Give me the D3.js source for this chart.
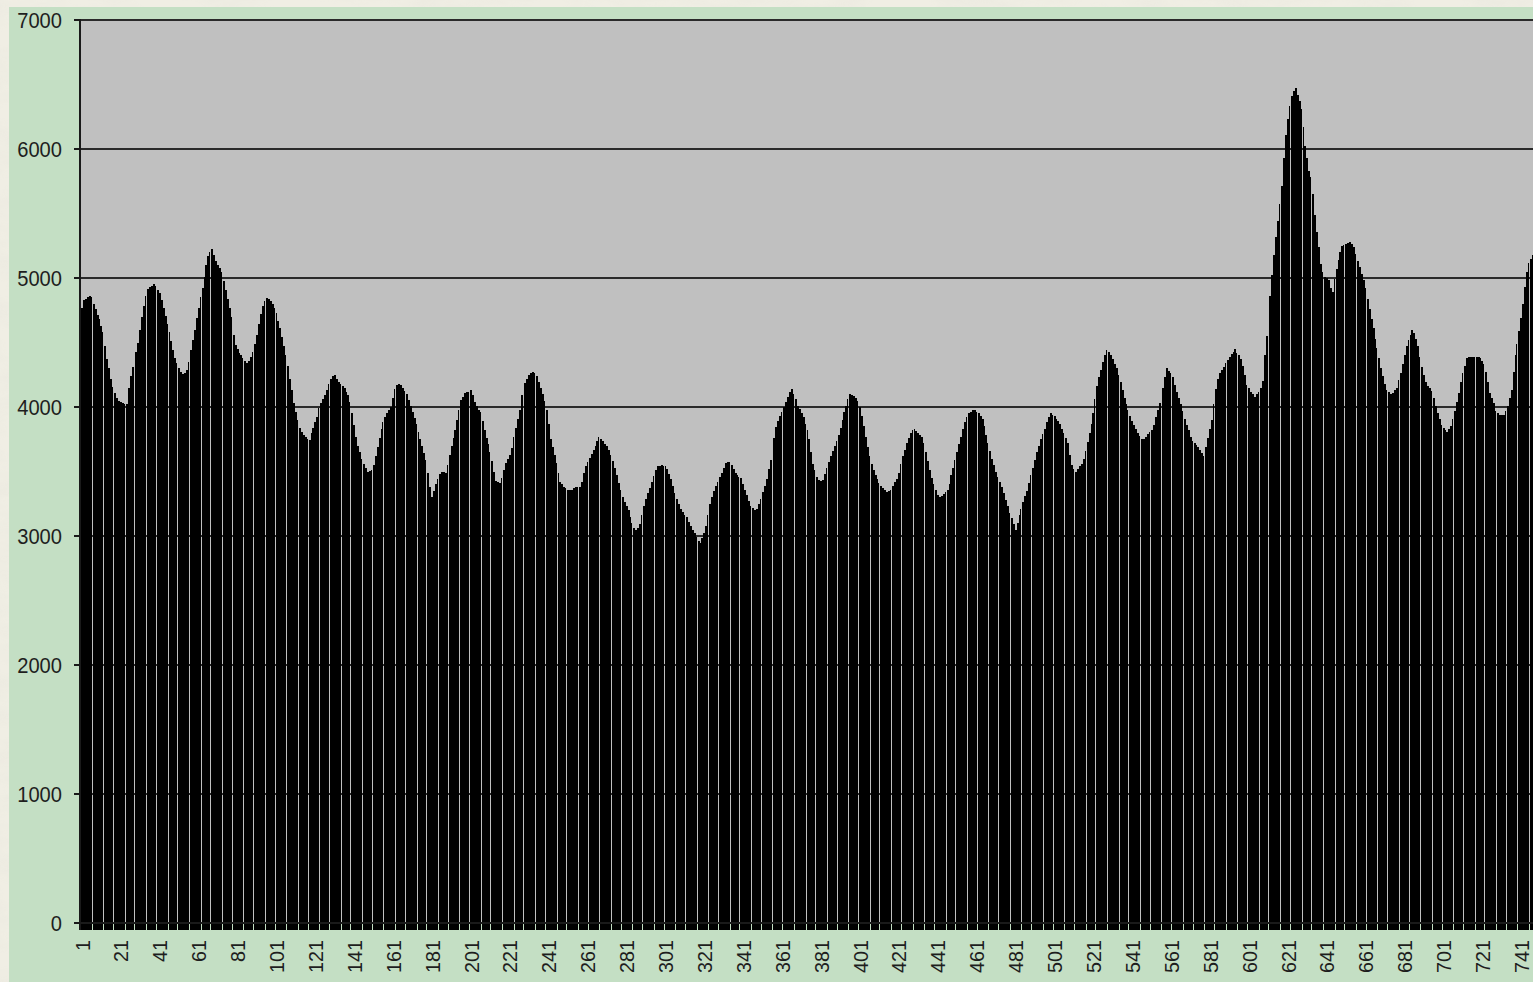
<!DOCTYPE html>
<html>
<head>
<meta charset="utf-8">
<script src="https://cdn.jsdelivr.net/npm/d3@7"></script>
<style>
  body { margin: 0; overflow: hidden; background: #efede3; }
  text { font-family: "Liberation Sans", Arial, sans-serif; fill: #1e1e1e; }
</style>
</head>
<body>
<svg width="1533" height="982"></svg>
<script>
// values, one per category
const counts = [
  4770,4830,4840,4850,4860,4850,4800,4760,4715,4680,4630,4580,4470,4370,4300,4220,4155,4110,4070,4045,
  4035,4030,4025,4020,4150,4240,4310,4370,4430,4500,4600,4700,4780,4860,4915,4930,4940,4950,4940,4910,
  4880,4830,4770,4705,4640,4580,4510,4440,4380,4340,4300,4275,4255,4260,4290,4350,4440,4520,4600,4690,
  4770,4850,4920,5010,5100,5170,5200,5225,5180,5130,5100,5080,5050,4980,4910,4840,4770,4700,4560,4480,
  4450,4420,4400,4380,4360,4340,4360,4385,4430,4490,4560,4640,4720,4780,4820,4845,4840,4825,4800,4765,
  4730,4670,4610,4540,4470,4400,4320,4220,4130,4030,3960,3900,3840,3810,3780,3765,3755,3745,3795,3840,
  3880,3920,3990,4030,4060,4090,4130,4180,4215,4240,4250,4220,4190,4175,4165,4150,4120,4090,4040,3950,
  3860,3770,3700,3650,3595,3560,3525,3500,3505,3515,3550,3620,3690,3760,3830,3880,3920,3950,3975,4000,
  4070,4140,4170,4175,4170,4150,4125,4100,4055,4010,3960,3915,3870,3810,3750,3700,3645,3590,3490,3380,
  3300,3350,3405,3440,3480,3500,3495,3490,3550,3630,3700,3760,3825,3900,3980,4055,4080,4105,4115,4120,
  4130,4090,4040,4005,3980,3960,3890,3820,3760,3710,3650,3580,3500,3430,3420,3410,3450,3510,3565,3600,
  3630,3680,3770,3840,3910,3980,4090,4150,4185,4220,4245,4265,4270,4265,4240,4195,4150,4100,4050,3980,
  3870,3750,3690,3630,3565,3490,3420,3400,3380,3370,3360,3355,3360,3370,3380,3380,3380,3420,3490,3540,
  3575,3605,3635,3670,3700,3735,3765,3755,3740,3715,3695,3670,3630,3580,3530,3470,3410,3355,3300,3260,
  3235,3200,3150,3100,3065,3045,3060,3095,3160,3230,3290,3330,3375,3415,3465,3515,3540,3545,3550,3545,
  3540,3520,3480,3440,3390,3335,3290,3250,3210,3185,3165,3145,3110,3080,3050,3020,2990,2965,2945,2985,
  3025,3080,3165,3245,3300,3350,3385,3420,3455,3490,3530,3565,3575,3570,3550,3520,3485,3470,3460,3450,
  3405,3360,3315,3270,3230,3215,3205,3210,3250,3290,3340,3390,3445,3520,3590,3660,3760,3845,3890,3930,
  3965,4000,4040,4080,4120,4140,4100,4060,4010,3985,3950,3920,3870,3820,3750,3650,3560,3510,3460,3435,
  3430,3435,3480,3530,3575,3620,3660,3700,3740,3785,3840,3900,3960,4005,4060,4100,4095,4085,4070,4050,
  4000,3930,3850,3770,3690,3620,3560,3510,3470,3440,3410,3390,3370,3355,3340,3345,3360,3390,3420,3445,
  3490,3560,3620,3670,3720,3760,3800,3825,3830,3815,3800,3785,3765,3720,3650,3580,3510,3450,3400,3360,
  3320,3300,3310,3325,3340,3355,3400,3470,3530,3590,3650,3710,3770,3830,3880,3925,3950,3965,3980,3975,
  3965,3950,3930,3905,3850,3780,3720,3660,3600,3550,3500,3460,3420,3380,3330,3280,3230,3180,3140,3090,
  3050,3100,3160,3210,3260,3310,3350,3410,3470,3530,3590,3650,3700,3750,3790,3830,3880,3920,3950,3940,
  3930,3910,3895,3870,3830,3800,3760,3720,3630,3550,3520,3500,3520,3540,3560,3600,3660,3730,3800,3870,
  3950,4060,4160,4230,4290,4350,4400,4440,4430,4400,4370,4330,4300,4250,4190,4130,4070,4020,3980,3930,
  3890,3860,3830,3800,3775,3750,3755,3770,3790,3805,3820,3860,3920,3980,4030,4080,4150,4230,4300,4280,
  4260,4230,4170,4120,4070,4020,3970,3910,3860,3820,3770,3740,3720,3705,3690,3665,3640,3620,3690,3760,
  3830,3900,4020,4140,4220,4260,4290,4310,4340,4365,4390,4410,4430,4450,4420,4400,4370,4320,4250,4170,
  4150,4120,4100,4080,4100,4120,4150,4200,4400,4550,4700,4860,5020,5180,5320,5440,5570,5710,5930,6110,
  6230,6330,6410,6450,6470,6420,6370,6310,6170,6020,5930,5830,5780,5650,5490,5360,5240,5110,5045,5010,
  5000,4985,4920,4890,4990,5070,5140,5200,5245,5255,5265,5275,5280,5260,5240,5185,5130,5085,5030,4985,
  4920,4840,4760,4685,4610,4530,4455,4380,4305,4240,4180,4130,4115,4100,4110,4130,4150,4210,4260,4330,
  4400,4475,4520,4560,4595,4570,4530,4470,4390,4310,4250,4190,4160,4145,4125,4070,4010,3950,3910,3860,
  3840,3820,3810,3830,3855,3910,3970,4040,4110,4190,4260,4320,4380,4385,4385,4390,4390,4390,4390,4380,
  4360,4330,4270,4190,4110,4070,4030,3970,3950,3940,3940,3940,3970,4010,4070,4130,4270,4400,4490,4590,
  4690,4800,4930,5050,5115,5150,5180
];
const categories = counts.map((d, i) => i + 1);
const xTickLabels = [1,21,41,61,81,101,121,141,161,181,201,221,241,261,281,301,321,341,361,381,
  401,421,441,461,481,501,521,541,561,581,601,621,641,661,681,701,721,741];
const yTickValues = [0,1000,2000,3000,4000,5000,6000,7000];

let svg = d3.select('svg'),
  width = +svg.attr('width'),
  height = +svg.attr('height');
const plot = { left: 81, right: 1534, top: 20, bottom: 923 };

// marble frame + green chart area
let defs = svg.append('defs');
let f = defs.append('filter').attr('id', 'marble');
f.append('feTurbulence').attr('type', 'fractalNoise').attr('baseFrequency', '0.015 0.04')
  .attr('numOctaves', 4).attr('seed', 3);
f.append('feColorMatrix').attr('type', 'matrix')
  .attr('values', '0 0 0 0 0.80  0 0 0 0 0.79  0 0 0 0 0.72  0 0 0 -1.6 1.0');
svg.append('rect').attr('width', width).attr('height', height).attr('fill', '#f0eee4');
svg.append('rect').attr('width', width).attr('height', height).attr('filter', 'url(#marble)').attr('opacity', 0.6);
svg.append('rect').attr('x', 9).attr('y', 7).attr('width', width - 9).attr('height', height - 7)
  .attr('fill', '#c4dfc4');

let x = d3.scaleBand().domain(categories).range([plot.left, plot.right]);
let y = d3.scaleLinear().domain([0, 7000]).range([plot.bottom, plot.top]);

// bars sit on whole pixels; the old screenshot shows a 1px gap roughly every 10.8px
const gapEvery = 10.8;
const barLeft = c => Math.round(x(c));
const barWidth = c => {
  let a = x(c), b = a + x.step();
  let gap = Math.floor((b - plot.left) / gapEvery) !== Math.floor((a - plot.left) / gapEvery) ? 1 : 0;
  return Math.max(0, Math.round(b) - Math.round(a) - gap);
};

svg.append('rect').attr('x', plot.left).attr('y', plot.top)
  .attr('width', plot.right - plot.left).attr('height', plot.bottom - plot.top)
  .attr('fill', '#c0c0c0');

// gridlines behind the bars
svg.append('g').selectAll('line').data(yTickValues.slice(1)).enter().append('line')
  .attr('x1', plot.left).attr('x2', plot.right)
  .attr('y1', d => y(d)).attr('y2', d => y(d))
  .attr('stroke', '#2a2a2a').attr('stroke-width', 2);

let bars = svg.append('g').attr('shape-rendering', 'crispEdges');
bars.selectAll('rect').data(counts).enter().append('rect')
  .attr('x', (d, i) => barLeft(categories[i]))
  .attr('width', (d, i) => barWidth(categories[i]))
  .attr('y', d => y(d))
  .attr('height', d => plot.bottom - y(d))
  .attr('fill', '#000');

// category tick marks, one per bar
bars.append('g').selectAll('rect').data(categories).enter().append('rect')
  .attr('x', barLeft).attr('width', barWidth)
  .attr('y', plot.bottom).attr('height', 7).attr('fill', '#000');

// axes lines
svg.append('line').attr('x1', 74).attr('x2', plot.right).attr('y1', plot.bottom).attr('y2', plot.bottom)
  .attr('stroke', '#1a1a1a').attr('stroke-width', 2);
svg.append('line').attr('x1', plot.left - 1).attr('x2', plot.left - 1).attr('y1', plot.top - 1).attr('y2', plot.bottom + 7)
  .attr('stroke', '#1a1a1a').attr('stroke-width', 2);
svg.append('g').selectAll('line').data(yTickValues).enter().append('line')
  .attr('x1', 74).attr('x2', plot.left).attr('y1', d => y(d)).attr('y2', d => y(d))
  .attr('stroke', '#1a1a1a').attr('stroke-width', 2);

// y labels
svg.append('g').selectAll('text').data(yTickValues).enter().append('text')
  .attr('x', 62).attr('y', d => y(d)).attr('dy', '0.36em')
  .attr('text-anchor', 'end').style('font-size', '22px')
  .attr('textLength', d => String(d).length * 11.2).attr('lengthAdjust', 'spacingAndGlyphs')
  .text(d => d);

// x labels, rotated
svg.append('g').selectAll('text').data(xTickLabels).enter().append('text')
  .attr('transform', d => 'translate(' + (x(d) + x.bandwidth() / 2) + ',940) rotate(-90)')
  .attr('dy', '0.36em').attr('text-anchor', 'end').style('font-size', '21px')
  .attr('textLength', d => String(d).length * 11).attr('lengthAdjust', 'spacingAndGlyphs')
  .text(d => d);
</script>
</body>
</html>
